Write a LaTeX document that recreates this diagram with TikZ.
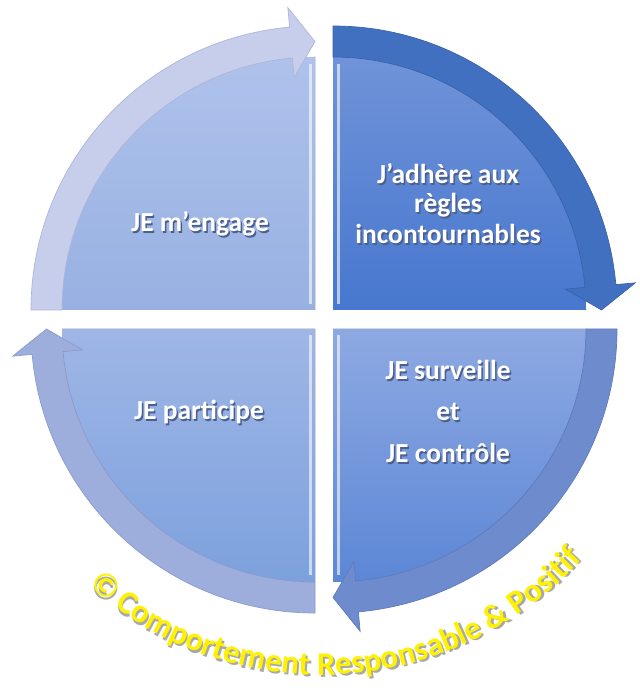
\documentclass[tikz,border=0pt]{standalone}
\usepackage{fontspec}
\setmainfont{Carlito}
\definecolor{tlBand}{HTML}{C6CEEC}
\definecolor{tlLine}{HTML}{AEB7D8}
\definecolor{tlTop}{HTML}{AEC2EB}
\definecolor{tlBot}{HTML}{98B1E2}
\definecolor{trBand}{HTML}{4270C1}
\definecolor{trLine}{HTML}{3A62AC}
\definecolor{trTop}{HTML}{7093D8}
\definecolor{trBot}{HTML}{4777CF}
\definecolor{brBand}{HTML}{6E8BCE}
\definecolor{brLine}{HTML}{5F7BBE}
\definecolor{brTop}{HTML}{8EA9E2}
\definecolor{brBot}{HTML}{5C87D6}
\definecolor{blBand}{HTML}{9DAEDD}
\definecolor{blLine}{HTML}{8A9CCD}
\definecolor{blTop}{HTML}{9FB6E6}
\definecolor{blBot}{HTML}{7DA1DD}
\definecolor{shcol}{HTML}{4B5E8C}
\definecolor{ysh}{HTML}{A8A8A8}
\newcommand\shd[1]{\makebox[0pt][l]{\kern1.5pt\raisebox{-1.5pt}{\textcolor{shcol}{#1}}}#1}
\newcommand\yshd[1]{\makebox[0pt][l]{\kern2pt\raisebox{-2pt}{\textcolor{ysh}{#1}}}#1}
\newcommand\yfont{\fontsize{33}{33}\selectfont\bfseries}
\begin{document}
\begin{tikzpicture}[x=1pt,y=1pt,
  lbl/.style={text=white, font=\fontsize{27.5}{30}\selectfont\bfseries, inner sep=0pt, anchor=base},
  band/.style={line width=0.7pt},
  bevel/.style={white, opacity=0.6, line width=3pt},
  ychar/.style={font=\yfont, text=yellow, inner sep=0pt, anchor=base}]
\useasboundingbox (0,0) rectangle (640,699);
\fill[white] (0,0) rectangle (640,699);
% top left
\begin{scope}[shift={(315,389)}]
\fill[top color=tlTop, bottom color=tlBot] (0,0) -- (180:253) arc[start angle=180,end angle=90,radius=253] -- cycle;
\draw[bevel] (-5,6) -- (-5,246);
\draw[band, draw=tlLine, fill=tlBand] (180:284) arc[start angle=180,end angle=95.13,radius=284] -- (95.13:303.5) -- (90:268.5) -- (95.13:233.5) -- (95.13:253) arc[start angle=95.13,end angle=180,radius=253] -- cycle;
\end{scope}
% top right
\begin{scope}[shift={(333,389)}]
\fill[top color=trTop, bottom color=trBot] (0,0) -- (90:253) arc[start angle=90,end angle=0,radius=253] -- cycle;
\draw[bevel] (5,6) -- (5,246);
\draw[band, draw=trLine, fill=trBand] (90:284) arc[start angle=90,end angle=5.13,radius=284] -- (5.13:303.5) -- (0:268.5) -- (5.13:233.5) -- (5.13:253) arc[start angle=5.13,end angle=90,radius=253] -- cycle;
\end{scope}
% bottom right
\begin{scope}[shift={(333,370)}]
\fill[top color=brTop, bottom color=brBot] (0,0) -- (0:253) arc[start angle=0,end angle=-90,radius=253] -- cycle;
\draw[bevel] (5,-6) -- (5,-246);
\draw[band, draw=brLine, fill=brBand] (0:284) arc[start angle=0,end angle=-84.87,radius=284] -- (-84.87:303.5) -- (-90:268.5) -- (-84.87:233.5) -- (-84.87:253) arc[start angle=-84.87,end angle=0,radius=253] -- cycle;
\end{scope}
% bottom left
\begin{scope}[shift={(315,370)}]
\fill[top color=blTop, bottom color=blBot] (0,0) -- (-90:253) arc[start angle=-90,end angle=-180,radius=253] -- cycle;
\draw[bevel] (-5,-6) -- (-5,-246);
\draw[band, draw=blLine, fill=blBand] (-90:284) arc[start angle=-90,end angle=-174.87,radius=284] -- (-174.87:303.5) -- (-180:268.5) -- (-174.87:233.5) -- (-174.87:253) arc[start angle=-174.87,end angle=-90,radius=253] -- cycle;
\end{scope}
% labels
\node[lbl] (engage) at (200,467) {\shd{JE m’engage}};
\node[lbl] (adh1) at (448,515) {\shd{J’adhère aux}};
\node[lbl] (adh2) at (448,486) {\shd{règles}};
\node[lbl] (adh3) at (448,455) {\shd{incontournables}};
\node[lbl] (surv1) at (448,319) {\shd{JE surveille}};
\node[lbl] (surv2) at (448,278) {\shd{et}};
\node[lbl] (surv3) at (448,236) {\shd{JE contrôle}};
\node[lbl] (part) at (199,279) {\shd{JE participe}};
% copyright text along an arc (centre 322,374; baseline radius 350)
\gdef\yS{0}
\foreach \ch/\w [count=\i] in {©/0.74,\ /0.226,C/0.529,o/0.538,m/0.813,p/0.537,o/0.538,r/0.355,t/0.347,e/0.503,m/0.813,e/0.503,n/0.537,t/0.347,\ /0.226,R/0.563,e/0.503,s/0.399,p/0.537,o/0.538,n/0.537,s/0.399,a/0.494,b/0.537,l/0.246,e/0.503,\ /0.226,\&/0.705,\ /0.226,P/0.532,o/0.538,s/0.399,i/0.246,t/0.347,i/0.246,f/0.316} {
  \pgfmathsetmacro\ymid{\yS + 0.5*\w*33}
  \pgfmathsetmacro\yang{228.4 + \ymid/350*57.29578}
  \node[ychar, rotate=\yang+90] (yc\i) at ([shift={(\yang:350)}]322,374) {\yshd{\ch}};
  \pgfmathsetmacro\ynext{\yS + \w*33}
  \global\let\yS\ynext
}
\end{tikzpicture}
\end{document}
